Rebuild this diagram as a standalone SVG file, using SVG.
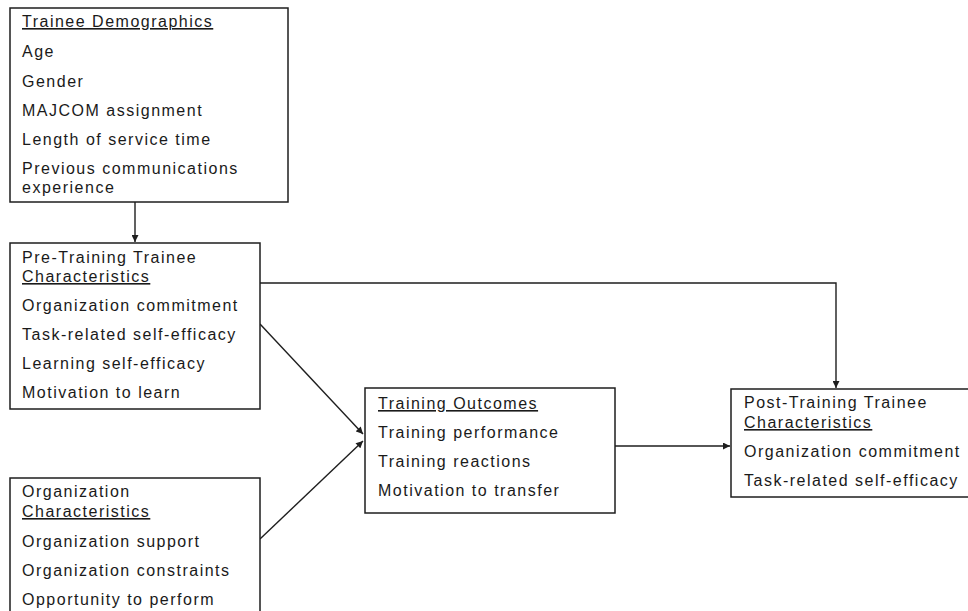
<svg xmlns="http://www.w3.org/2000/svg" width="968" height="611" viewBox="0 0 968 611">
<style>
.box{fill:#fff;stroke:#1e1e1e;stroke-width:1.5}
text{font-family:"Liberation Sans",Arial,sans-serif;font-size:16px;fill:#1a1a1a;letter-spacing:1.5px}
.u{text-decoration:underline}
.c{fill:none;stroke:#1e1e1e;stroke-width:1.4}
</style>
<defs>
<marker id="ah" viewBox="0 0 10 10" refX="10" refY="5" markerWidth="8" markerHeight="7" markerUnits="userSpaceOnUse" orient="auto">
<path d="M0,0 L10,5 L0,10 z" fill="#1e1e1e"/>
</marker>
</defs>
<rect width="968" height="611" fill="#fff"/>
<g id="connectors">
<path class="c" d="M135,202 V242" marker-end="url(#ah)"/>
<path class="c" d="M260,283 H836 V388" marker-end="url(#ah)"/>
<path class="c" d="M260,324 L363,434" marker-end="url(#ah)"/>
<path class="c" d="M260,539 L363,441" marker-end="url(#ah)"/>
<path class="c" d="M615,446 H730" marker-end="url(#ah)"/>
</g>
<g id="trainee-demographics">
<rect class="box" x="10" y="8" width="278" height="194"/>
<text x="22" y="27" class="u">Trainee Demographics</text>
<text x="22" y="57">Age</text>
<text x="22" y="87">Gender</text>
<text x="22" y="116">MAJCOM assignment</text>
<text x="22" y="145">Length of service time</text>
<text x="22" y="174">Previous communications</text>
<text x="22" y="193">experience</text>
</g>
<g id="pre-training">
<rect class="box" x="10" y="243" width="250" height="166"/>
<text x="22" y="263">Pre-Training Trainee</text>
<text x="22" y="282" class="u">Characteristics</text>
<text x="22" y="311">Organization commitment</text>
<text x="22" y="340">Task-related self-efficacy</text>
<text x="22" y="369">Learning self-efficacy</text>
<text x="22" y="398">Motivation to learn</text>
</g>
<g id="organization">
<rect class="box" x="10" y="478" width="250" height="150"/>
<text x="22" y="497">Organization</text>
<text x="22" y="517" class="u">Characteristics</text>
<text x="22" y="547">Organization support</text>
<text x="22" y="576">Organization constraints</text>
<text x="22" y="605">Opportunity to perform</text>
</g>
<g id="training-outcomes">
<rect class="box" x="365" y="388" width="250" height="125"/>
<text x="378" y="409" class="u">Training Outcomes</text>
<text x="378" y="438">Training performance</text>
<text x="378" y="467">Training reactions</text>
<text x="378" y="496">Motivation to transfer</text>
</g>
<g id="post-training">
<rect class="box" x="731" y="389" width="250" height="108"/>
<text x="744" y="408">Post-Training Trainee</text>
<text x="744" y="428" class="u">Characteristics</text>
<text x="744" y="457">Organization commitment</text>
<text x="744" y="486">Task-related self-efficacy</text>
</g>
</svg>
